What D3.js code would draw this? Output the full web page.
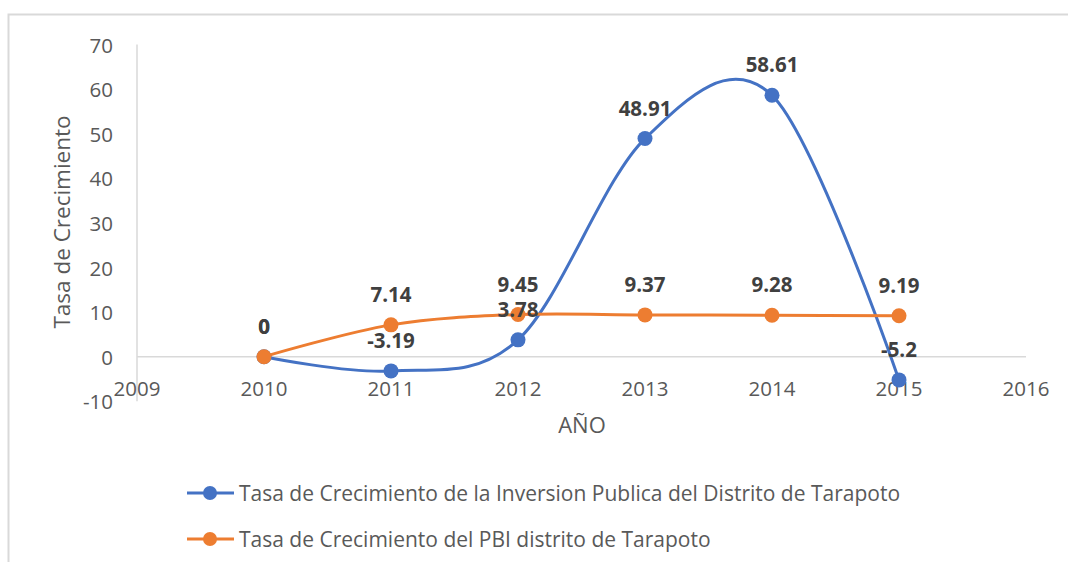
<!DOCTYPE html>
<html>
<head>
<meta charset="utf-8">
<script src="https://cdn.jsdelivr.net/npm/d3@7"></script>
<style>
  body { margin: 0; background: #fff; }
  svg { display: block; font-family: "Open Sans", "Noto Sans", sans-serif; }
</style>
</head>
<body>
<div id="chart"></div>
<script>
// data
var years = [2010, 2011, 2012, 2013, 2014, 2015];
var inversion = [0, -3.19, 3.78, 48.91, 58.61, -5.2];
var pbi = [0, 7.14, 9.45, 9.37, 9.28, 9.19];
var yTicks = [-10, 0, 10, 20, 30, 40, 50, 60, 70];
var xTicks = [2009, 2010, 2011, 2012, 2013, 2014, 2015, 2016];
var seriesNames = [
    "Tasa de Crecimiento de la Inversion Publica del Distrito de Tarapoto",
    "Tasa de Crecimiento del PBI distrito de Tarapoto"
];
var colors = ["#4472C4", "#ED7D31"];

var width = 1068, height = 562;

var svg = d3.select("#chart").append("svg")
    .attr("width", width)
    .attr("height", height);

// chart frame (right/bottom edges fall outside the picture)
svg.append("rect")
    .attr("x", 8.5).attr("y", 14.5)
    .attr("width", width + 20).attr("height", height + 20)
    .attr("fill", "none")
    .attr("stroke", "#d9d9d9")
    .attr("stroke-width", 2);

var x = d3.scaleLinear().domain([2009, 2016]).range([137, 1026]);
var y = d3.scaleLinear().domain([-10, 70]).range([401.3, 44.5]);

// y axis line
svg.append("line")
    .attr("x1", x(2009)).attr("x2", x(2009))
    .attr("y1", y(70)).attr("y2", y(-10))
    .attr("stroke", "#d9d9d9").attr("stroke-width", 1.5);

// horizontal axis at zero
svg.append("line")
    .attr("x1", x(2009)).attr("x2", x(2016))
    .attr("y1", y(0)).attr("y2", y(0))
    .attr("stroke", "#d9d9d9").attr("stroke-width", 1.5);

// y tick labels
svg.append("g").selectAll("text")
    .data(yTicks)
    .enter()
    .append("text")
    .attr("x", 113)
    .attr("y", function (d) { return y(d); })
    .attr("text-anchor", "end")
    .attr("dominant-baseline", "central")
    .attr("fill", "#595959")
    .style("font-size", "20.5px")
    .text(function (d) { return d; });

// x tick labels, hanging under the zero line
svg.append("g").selectAll("text")
    .data(xTicks)
    .enter()
    .append("text")
    .attr("x", function (d) { return x(d); })
    .attr("y", 388)
    .attr("text-anchor", "middle")
    .attr("dominant-baseline", "central")
    .attr("fill", "#595959")
    .style("font-size", "20.5px")
    .text(function (d) { return d; });

// axis titles
svg.append("text")
    .attr("x", 582).attr("y", 424)
    .attr("text-anchor", "middle")
    .attr("dominant-baseline", "central")
    .attr("fill", "#595959")
    .style("font-size", "22px")
    .text("AÑO");

svg.append("text")
    .attr("transform", "translate(61,222) rotate(-90)")
    .attr("text-anchor", "middle")
    .attr("dominant-baseline", "central")
    .attr("fill", "#595959")
    .style("font-size", "22.5px")
    .text("Tasa de Crecimiento");

var line = d3.line()
    .x(function (d) { return x(d.year); })
    .y(function (d) { return y(d.value); })
    .curve(d3.curveCardinal.tension(0));

var series = [inversion, pbi].map(function (vals, i) {
    return {
        name: seriesNames[i],
        color: colors[i],
        points: years.map(function (yr, j) { return { year: yr, value: vals[j] }; })
    };
});

series.forEach(function (s) {
    var g = svg.append("g");
    g.append("path")
        .datum(s.points)
        .attr("d", line)
        .attr("fill", "none")
        .attr("stroke", s.color)
        .attr("stroke-width", 3);
    g.selectAll("circle")
        .data(s.points)
        .enter()
        .append("circle")
        .attr("cx", function (d) { return x(d.year); })
        .attr("cy", function (d) { return y(d.value); })
        .attr("r", 7.5)
        .attr("fill", s.color);
});

// data labels
series.forEach(function (s) {
    svg.append("g").selectAll("text")
        .data(s.points)
        .enter()
        .append("text")
        .attr("x", function (d) { return x(d.year); })
        .attr("y", function (d) { return y(d.value) - 31; })
        .attr("text-anchor", "middle")
        .attr("dominant-baseline", "central")
        .attr("fill", "#404040")
        .style("font-size", "20.5px")
        .style("font-weight", "bold")
        .text(function (d) { return d.value; });
});

// legend
var legend = svg.append("g").selectAll("g")
    .data(series)
    .enter()
    .append("g")
    .attr("transform", function (d, i) { return "translate(0," + (493 + i * 46) + ")"; });

legend.append("line")
    .attr("x1", 187).attr("x2", 234)
    .attr("y1", 0).attr("y2", 0)
    .attr("stroke", function (d) { return d.color; })
    .attr("stroke-width", 3);

legend.append("circle")
    .attr("cx", 210).attr("cy", 0).attr("r", 7)
    .attr("fill", function (d) { return d.color; });

legend.append("text")
    .attr("x", 239).attr("y", 0)
    .attr("dominant-baseline", "central")
    .attr("fill", "#595959")
    .style("font-size", "21px")
    .text(function (d) { return d.name; });
</script>
</body>
</html>
